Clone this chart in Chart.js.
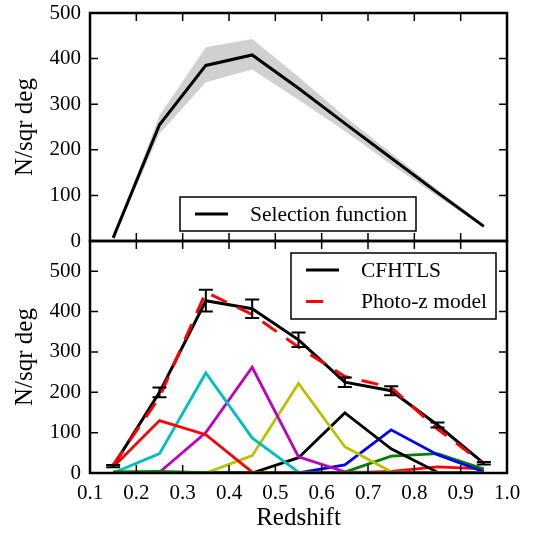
<!DOCTYPE html>
<html>
<head>
    <title>Redshift distribution</title>
    <script src="https://cdn.jsdelivr.net/npm/chart.js"></script>
    <style>
        body {
            margin: 0;
            padding: 0;
            background: #fff;
        }
        #wrap {
            position: relative;
            width: 535px;
            height: 533px;
        }
        canvas {
            position: absolute;
            left: 0;
        }
        #topChart { top: 0; }
        #bottomChart { top: 228px; }
    </style>
</head>
<body>

<div id="wrap">
    <canvas id="topChart" width="535" height="262"></canvas>
    <canvas id="bottomChart" width="535" height="305"></canvas>
</div>

<script>
    // redshift bin centres
    var redshift = [0.15, 0.25, 0.35, 0.45, 0.55, 0.65, 0.75, 0.85, 0.95];

    // top panel: selection function and its spread
    var selection = [7, 255, 385, 408, 335, 258, 182, 106, 32];
    var selUpper  = [9, 275, 425, 443, 360, 273, 193, 113, 36];
    var selLower  = [5, 235, 348, 376, 310, 241, 168, 98, 29];

    // bottom panel: counts, errors and model
    var cfhtls    = [17, 200, 427, 407, 330, 225, 204, 119, 24];
    var cfhtlsErr = [3, 12, 27, 23, 18, 12, 11, 6, 3];
    var photoz    = [20, 188, 448, 393, 312, 239, 212, 109, 22];

    // photo-z contributions per input bin
    var binA = [3, 4, 1, 0, 0, 0, 0, 0, 0];
    var binB = [15, 130, 95, 2, 0, 0, 0, 0, 0];
    var binC = [0, 48, 248, 87, 2, 0, 0, 0, 0];
    var binD = [0, 2, 100, 262, 40, 3, 0, 0, 0];
    var binE = [0, 0, 0, 43, 222, 65, 3, 0, 0];
    var binF = [0, 0, 0, 0, 38, 149, 60, 2, 0];
    var binG = [0, 0, 0, 0, 0, 20, 107, 45, 3];
    var binH = [0, 0, 0, 0, 0, 2, 42, 48, 10];
    var binI = [0, 0, 0, 0, 0, 0, 4, 15, 10];

    var bins = [binA, binB, binC, binD, binE, binF, binG, binH, binI];
    var binColors = ['#008000', '#ff0000', '#00bfbf', '#bf00bf', '#bfbf00', '#000000', '#0000ff', '#008000', '#ff0000'];

    var serif = 'Liberation Serif';

    function pts(arr) {
        return arr.map(function (v, i) { return {x: redshift[i], y: v}; });
    }

    // box + inward ticks on all four sides
    var framePlugin = {
        id: 'frame',
        afterDraw: function (chart) {
            var ctx = chart.ctx, a = chart.chartArea;
            var sx = chart.scales.x, sy = chart.scales.y;
            var len = 8;
            ctx.save();
            ctx.strokeStyle = '#000';
            ctx.lineWidth = 1.5;
            ctx.beginPath();
            sx.ticks.forEach(function (t) {
                var px = sx.getPixelForValue(t.value);
                ctx.moveTo(px, a.bottom); ctx.lineTo(px, a.bottom - len);
                ctx.moveTo(px, a.top); ctx.lineTo(px, a.top + len);
            });
            sy.ticks.forEach(function (t) {
                var py = sy.getPixelForValue(t.value);
                ctx.moveTo(a.left, py); ctx.lineTo(a.left + len, py);
                ctx.moveTo(a.right, py); ctx.lineTo(a.right - len, py);
            });
            ctx.stroke();
            ctx.lineWidth = 2.5;
            ctx.strokeRect(a.left, a.top, a.right - a.left, a.bottom - a.top);
            ctx.restore();
        }
    };

    // vertical error bars with caps
    var errorBarPlugin = {
        id: 'errorBars',
        afterDatasetsDraw: function (chart, args, opts) {
            if (opts.dataset == null) return;
            var ctx = chart.ctx, sx = chart.scales.x, sy = chart.scales.y;
            var ds = chart.data.datasets[opts.dataset];
            ctx.save();
            ctx.strokeStyle = '#000';
            ctx.lineWidth = 2;
            ctx.beginPath();
            ds.data.forEach(function (p, i) {
                var px = sx.getPixelForValue(p.x);
                var y1 = sy.getPixelForValue(p.y - opts.errors[i]);
                var y2 = sy.getPixelForValue(p.y + opts.errors[i]);
                ctx.moveTo(px, y1); ctx.lineTo(px, y2);
                ctx.moveTo(px - 7, y1); ctx.lineTo(px + 7, y1);
                ctx.moveTo(px - 7, y2); ctx.lineTo(px + 7, y2);
            });
            ctx.stroke();
            ctx.restore();
        }
    };

    // framed legend inside the plot
    var legendPlugin = {
        id: 'boxLegend',
        afterDraw: function (chart, args, opts) {
            if (!opts.items) return;
            var ctx = chart.ctx, a = chart.chartArea;
            var left = a.left + opts.left;
            var top = opts.fromBottom ? a.bottom - opts.fromBottom : a.top + opts.top;
            ctx.save();
            ctx.fillStyle = '#fff';
            ctx.fillRect(left, top, opts.width, opts.height);
            ctx.strokeStyle = '#000';
            ctx.lineWidth = 1.5;
            ctx.strokeRect(left, top, opts.width, opts.height);
            opts.items.forEach(function (it, k) {
                var ds = chart.data.datasets[it.dataset];
                var y = top + 17 + k * 31.5;
                ctx.beginPath();
                ctx.strokeStyle = ds.borderColor;
                ctx.lineWidth = ds.borderWidth;
                ctx.moveTo(left + 15, y);
                ctx.lineTo(left + 15 + it.length, y);
                ctx.stroke();
                ctx.fillStyle = '#000';
                ctx.font = '21.5px "' + serif + '"';
                ctx.textBaseline = 'middle';
                ctx.textAlign = 'left';
                ctx.fillText(ds.label, left + 70, y + 1);
            });
            ctx.restore();
        }
    };

    function yAxis(max) {
        return {
            position: 'left',
            min: 0,
            max: max,
            afterFit: function (s) {
                s.width = 90;
                s.paddingTop = 0;
                s.paddingBottom = 0;
            },
            grid: {display: false, drawTicks: false},
            border: {display: false},
            ticks: {
                stepSize: 100,
                includeBounds: false,
                padding: 9,
                color: '#000',
                font: {family: serif, size: 21}
            },
            title: {
                display: true,
                text: 'N/sqr deg',
                color: '#000',
                padding: {top: 10, bottom: 0},
                font: {family: serif, size: 25}
            }
        };
    }

    // top panel
    new Chart(document.getElementById('topChart'), {
        type: 'line',
        data: {
            datasets: [{
                label: 'Selection function',
                data: pts(selection),
                borderColor: '#000',
                borderWidth: 3,
                pointRadius: 0,
                fill: false
            }, {
                label: 'upper',
                data: pts(selUpper),
                borderWidth: 0,
                pointRadius: 0,
                backgroundColor: '#d0d0d0',
                fill: '+1'
            }, {
                label: 'lower',
                data: pts(selLower),
                borderWidth: 0,
                pointRadius: 0,
                fill: false
            }]
        },
        options: {
            responsive: false,
            animation: false,
            devicePixelRatio: 1,
            layout: {padding: {top: 13, right: 28, bottom: 21, left: 0}},
            scales: {
                x: {
                    type: 'linear',
                    min: 0.1,
                    max: 1.0,
                    afterFit: function (s) { s.height = 0; },
                    grid: {display: false, drawTicks: false},
                    border: {display: false},
                    ticks: {display: false, stepSize: 0.1}
                },
                y: yAxis(500)
            },
            plugins: {
                legend: {display: false},
                tooltip: {enabled: false},
                boxLegend: {
                    left: 90, fromBottom: 44, width: 236, height: 34,
                    items: [{dataset: 0, length: 33}]
                }
            }
        },
        plugins: [framePlugin, legendPlugin]
    });

    // bottom panel
    var bottomSets = [{
        label: 'Photo-z model',
        data: pts(photoz),
        borderColor: '#ff0000',
        borderWidth: 3,
        borderDash: [17, 12],
        pointRadius: 0
    }, {
        label: 'CFHTLS',
        data: pts(cfhtls),
        borderColor: '#000',
        borderWidth: 3,
        pointRadius: 0
    }];
    bins.forEach(function (b, i) {
        bottomSets.push({
            label: 'bin ' + (i + 1),
            data: pts(b),
            borderColor: binColors[i],
            borderWidth: 2.8,
            pointRadius: 0
        });
    });

    new Chart(document.getElementById('bottomChart'), {
        type: 'line',
        data: {datasets: bottomSets},
        options: {
            responsive: false,
            animation: false,
            devicePixelRatio: 1,
            layout: {padding: {top: 13, right: 28, bottom: 0, left: 0}},
            scales: {
                x: {
                    type: 'linear',
                    min: 0.1,
                    max: 1.0,
                    afterFit: function (s) { s.height = 60; },
                    grid: {display: false, drawTicks: false},
                    border: {display: false},
                    ticks: {
                        stepSize: 0.1,
                        padding: 8,
                        color: '#000',
                        maxRotation: 0,
                        font: {family: serif, size: 21},
                        callback: function (v) { return v.toFixed(1); }
                    },
                    title: {
                        display: true,
                        text: 'Redshift',
                        color: '#000',
                        padding: {top: 0, bottom: 0},
                        font: {family: serif, size: 25}
                    }
                },
                y: yAxis(575)
            },
            plugins: {
                legend: {display: false},
                tooltip: {enabled: false},
                errorBars: {dataset: 1, errors: cfhtlsErr},
                boxLegend: {
                    left: 201, top: 12, width: 205, height: 66,
                    items: [{dataset: 1, length: 33}, {dataset: 0, length: 17}]
                }
            }
        },
        plugins: [errorBarPlugin, framePlugin, legendPlugin]
    });
</script>

</body>
</html>
